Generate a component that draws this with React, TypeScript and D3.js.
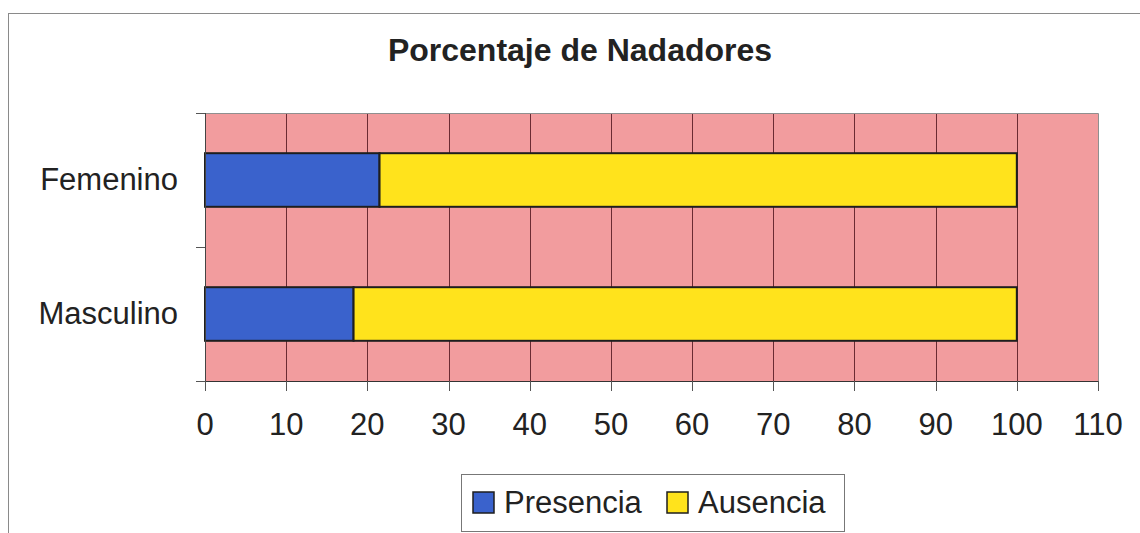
import React, { useEffect, useRef } from 'react';
import * as d3 from 'd3';

// Data
const categories = ['Femenino', 'Masculino'];
const presencia = [21.5, 18.3];
const ausencia = [78.5, 81.7];
const seriesNames = ['Presencia', 'Ausencia'];
const xTicks = [0, 10, 20, 30, 40, 50, 60, 70, 80, 90, 100, 110];

const colors = ['#3a62cc', '#ffe31c'];

const App = () => {
  const svgRef = useRef<SVGSVGElement | null>(null);

  useEffect(() => {
    if (!svgRef.current) return;
    const svg = d3.select(svgRef.current);
    svg.selectAll('*').remove();

    const width = 1140;
    const height = 533;
    const plot = { left: 205, top: 113, right: 1098, bottom: 381 };
    const font = 'Arial, "Liberation Sans", sans-serif';

    svg.attr('width', width).attr('height', height);

    // white page + outer chart frame
    svg.append('rect').attr('width', width).attr('height', height).attr('fill', '#fff');
    svg.append('rect')
      .attr('x', 8.5).attr('y', 13.5)
      .attr('width', 1160).attr('height', 600)
      .attr('fill', 'none').attr('stroke', '#8a8a8a').attr('stroke-width', 1);

    // title
    svg.append('text')
      .attr('x', 580).attr('y', 61)
      .attr('text-anchor', 'middle')
      .attr('font-family', font).attr('font-weight', 'bold')
      .attr('font-size', 32).attr('fill', '#222')
      .text('Porcentaje de Nadadores');

    const x = d3.scaleLinear().domain([0, 110]).range([plot.left, plot.right]);
    const y = d3.scaleBand()
      .domain(categories)
      .range([plot.top, plot.bottom])
      .paddingInner(0.6)
      .paddingOuter(0.3);
    const yBand = d3.scaleBand().domain(categories).range([plot.top, plot.bottom]);

    // plot background
    svg.append('rect')
      .attr('x', plot.left).attr('y', plot.top)
      .attr('width', plot.right - plot.left).attr('height', plot.bottom - plot.top)
      .attr('fill', '#f29c9e');

    // vertical gridlines
    svg.append('g')
      .selectAll('line')
      .data(xTicks.filter(t => t > 0 && t < 110))
      .join('line')
      .attr('x1', d => Math.round(x(d)) + 0.5).attr('x2', d => Math.round(x(d)) + 0.5)
      .attr('y1', plot.top).attr('y2', plot.bottom)
      .attr('stroke', '#6b2b33').attr('stroke-width', 1);

    // plot border (top/right grey)
    svg.append('path')
      .attr('d', `M${plot.left},${plot.top + 0.5}H${plot.right + 0.5}V${plot.bottom}`)
      .attr('fill', 'none').attr('stroke', '#8f8f8f').attr('stroke-width', 1);

    // stacked bars
    const stacked = categories.map((c, i) => ({ c, vals: [presencia[i], ausencia[i]] }));
    const barG = svg.append('g');
    stacked.forEach(row => {
      let start = 0;
      row.vals.forEach((v, j) => {
        barG.append('rect')
          .attr('x', x(start))
          .attr('y', y(row.c)!)
          .attr('width', x(start + v) - x(start))
          .attr('height', y.bandwidth())
          .attr('fill', colors[j])
          .attr('stroke', '#1e1e1e')
          .attr('stroke-width', 2);
        start += v;
      });
    });

    // x axis
    const xAxis = svg.append('g').attr('transform', `translate(0,${plot.bottom})`);
    xAxis.append('line')
      .attr('x1', plot.left - 8).attr('x2', plot.right + 0.5)
      .attr('y1', 0.5).attr('y2', 0.5)
      .attr('stroke', '#333').attr('stroke-width', 1.2);
    xAxis.selectAll('line.tick')
      .data(xTicks)
      .join('line')
      .attr('class', 'tick')
      .attr('x1', d => Math.round(x(d)) + 0.5).attr('x2', d => Math.round(x(d)) + 0.5)
      .attr('y1', 0).attr('y2', 10)
      .attr('stroke', '#555').attr('stroke-width', 1);
    xAxis.selectAll('text')
      .data(xTicks)
      .join('text')
      .attr('x', d => x(d))
      .attr('y', 54)
      .attr('text-anchor', 'middle')
      .attr('font-family', font).attr('font-size', 31).attr('fill', '#222')
      .text(d => d);

    // y axis
    const yAxis = svg.append('g');
    yAxis.append('line')
      .attr('x1', plot.left + 0.5).attr('x2', plot.left + 0.5)
      .attr('y1', plot.top).attr('y2', plot.bottom)
      .attr('stroke', '#444').attr('stroke-width', 1);
    const yTickPos = [plot.top, yBand('Masculino')!, plot.bottom];
    yAxis.selectAll('line.tick')
      .data(yTickPos)
      .join('line')
      .attr('class', 'tick')
      .attr('x1', plot.left - 9).attr('x2', plot.left)
      .attr('y1', d => d + 0.5).attr('y2', d => d + 0.5)
      .attr('stroke', '#555').attr('stroke-width', 1);
    yAxis.selectAll('text')
      .data(categories)
      .join('text')
      .attr('x', 178)
      .attr('y', d => y(d)! + y.bandwidth() / 2 + 10)
      .attr('text-anchor', 'end')
      .attr('font-family', font).attr('font-size', 31).attr('fill', '#222')
      .text(d => d);

    // legend
    const legend = svg.append('g');
    legend.append('rect')
      .attr('x', 461.5).attr('y', 474.5)
      .attr('width', 383).attr('height', 57)
      .attr('fill', '#fff').attr('stroke', '#777').attr('stroke-width', 1);
    const legendX = [473, 667];
    seriesNames.forEach((name, i) => {
      legend.append('rect')
        .attr('x', legendX[i]).attr('y', 492)
        .attr('width', 21).attr('height', 21)
        .attr('fill', colors[i]).attr('stroke', '#1e1e1e').attr('stroke-width', 1.5);
      legend.append('text')
        .attr('x', legendX[i] + 31).attr('y', 513)
        .attr('font-family', font).attr('font-size', 31).attr('fill', '#222')
        .text(name);
    });
  }, []);

  return (
    <div style={{ position: 'absolute', left: 0, top: 0 }}>
      <svg ref={svgRef} style={{ display: 'block' }} />
    </div>
  );
};

export default App;
